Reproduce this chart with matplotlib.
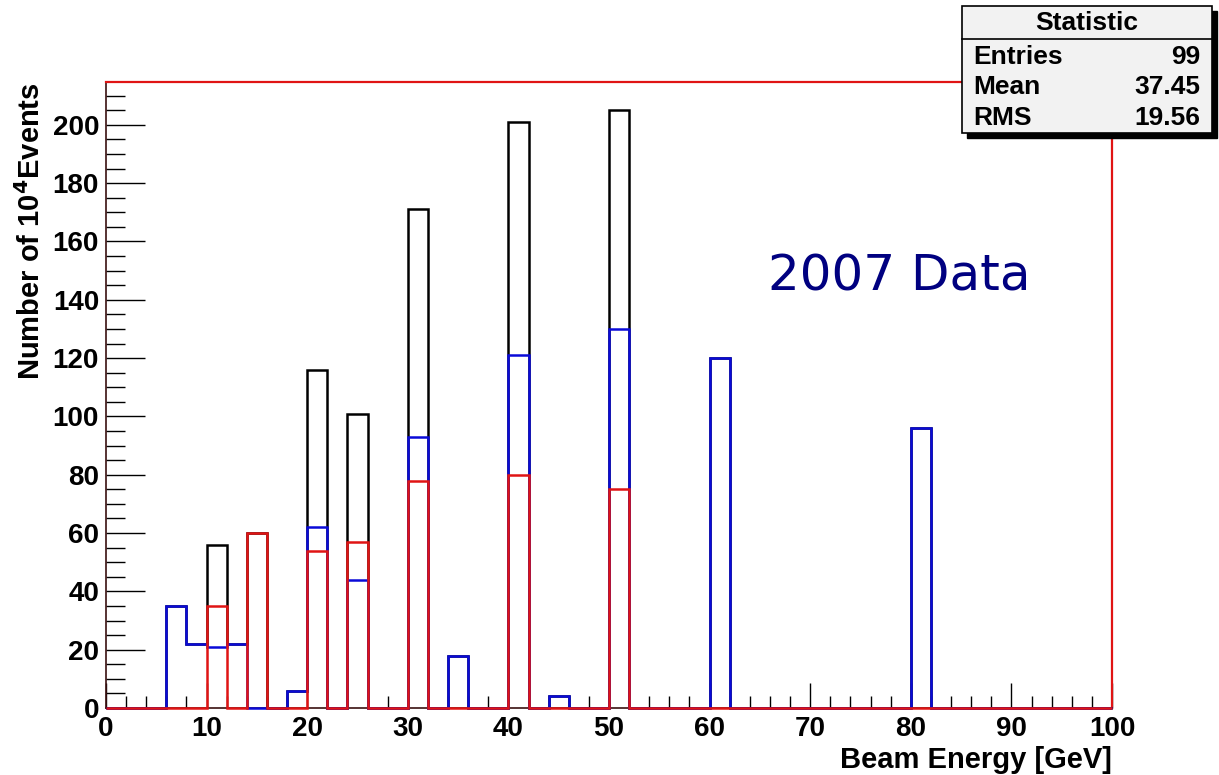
import numpy as np
import matplotlib
matplotlib.use("Agg")
import matplotlib.pyplot as plt
from matplotlib.patches import Rectangle
from matplotlib.lines import Line2D
from matplotlib.ticker import MultipleLocator

# 2 GeV bins from 0 to 100
edges = np.arange(0, 102, 2)

# lower edge of each filled bin and its content
blue_bins = [6, 8, 10, 12, 18, 20, 24, 30, 34, 40, 44, 50, 60, 80]
blue_counts = [35, 22, 21, 22, 6, 62, 44, 93, 18, 121, 4, 130, 120, 96]
red_bins = [10, 14, 20, 24, 30, 40, 50]
red_counts = [35, 60, 54, 57, 78, 80, 75]

stat_names = ["Entries", "Mean", "RMS"]
stat_values = ["99", "37.45", "19.56"]

blue_h, _ = np.histogram(np.array(blue_bins) + 1, bins=edges, weights=blue_counts)
red_h, _ = np.histogram(np.array(red_bins) + 1, bins=edges, weights=red_counts)
total_h = blue_h + red_h

W, H = 1219, 775
fig = plt.figure(figsize=(W / 100, H / 100), dpi=100)
ax = fig.add_axes([106 / W, 1 - 708 / H, (1112 - 106) / W, (708 - 82) / H])

lw = 1.8
ax.stairs(total_h, edges, color="black", lw=lw, clip_on=False, zorder=3)
ax.stairs(blue_h, edges, color="#0a0ad8", lw=lw, clip_on=False, zorder=3)
ax.stairs(red_h, edges, color="#e01414", lw=lw, clip_on=False, zorder=3)

ax.set_xlim(0, 100)
ax.set_ylim(0, 214.7)
ax.xaxis.set_major_locator(MultipleLocator(10))
ax.xaxis.set_minor_locator(MultipleLocator(2))
ax.yaxis.set_major_locator(MultipleLocator(20))
ax.yaxis.set_minor_locator(MultipleLocator(5))
ax.tick_params(which="both", direction="in", top=False, right=False,
               width=1.0, color="black")
ax.tick_params(axis="x", which="major", length=18, pad=6)
ax.tick_params(axis="x", which="minor", length=9)
ax.tick_params(axis="y", which="major", length=28, pad=5)
ax.tick_params(axis="y", which="minor", length=14)

for lab in ax.get_xticklabels() + ax.get_yticklabels():
    lab.set_fontfamily("Liberation Sans")
    lab.set_fontweight("bold")
    lab.set_fontsize(20)

for side in ["left", "bottom"]:
    ax.spines[side].set_color("#3a1010")
    ax.spines[side].set_linewidth(1.2)
for side in ["top", "right"]:
    ax.spines[side].set_color("#e01414")
    ax.spines[side].set_linewidth(1.6)

fig.text(1112 / W, 1 - 760 / H, "Beam Energy [GeV]", ha="right", va="center",
         fontfamily="Liberation Sans", fontweight="bold", fontsize=21)
fig.text(31 / W, 1 - 82 / H, "Number of 10$^\\mathbf{4}$Events", rotation=90,
         ha="center", va="top", fontfamily="Liberation Sans",
         fontweight="bold", fontsize=21)

ax.text(0.789, 0.69, "2007 Data", transform=ax.transAxes, ha="center",
        va="center", color="#000080", fontsize=36, fontfamily="DejaVu Sans")

# stats box
def fx(px):
    return px / W

def fy(py):
    return 1 - py / H

bx0, bx1, by0, by1 = 962, 1212, 6, 133
fig.patches.append(Rectangle((fx(bx0 + 5), fy(by1 + 5)), fx(bx1 - bx0), (by1 - by0) / H,
                             transform=fig.transFigure, facecolor="black",
                             edgecolor="black", zorder=10))
fig.patches.append(Rectangle((fx(bx0), fy(by1)), fx(bx1 - bx0), (by1 - by0) / H,
                             transform=fig.transFigure, facecolor="#f2f2f2",
                             edgecolor="black", lw=1.2, zorder=11))
fig.lines.append(Line2D([fx(bx0), fx(bx1)], [fy(39), fy(39)], color="black",
                        lw=1.2, transform=fig.transFigure, zorder=12))
fig.text(fx((bx0 + bx1) / 2), fy(23), "Statistic", ha="center", va="center",
         fontfamily="Liberation Sans", fontweight="bold", fontsize=19, zorder=13)
for i, (name, val) in enumerate(zip(stat_names, stat_values)):
    yy = fy(57 + 30.5 * i)
    fig.text(fx(973), yy, name, ha="left", va="center", fontfamily="Liberation Sans",
             fontweight="bold", fontsize=19, zorder=13)
    fig.text(fx(1200), yy, val, ha="right", va="center", fontfamily="Liberation Sans",
             fontweight="bold", fontsize=19, zorder=13)

fig.savefig("out.png", dpi=100)
